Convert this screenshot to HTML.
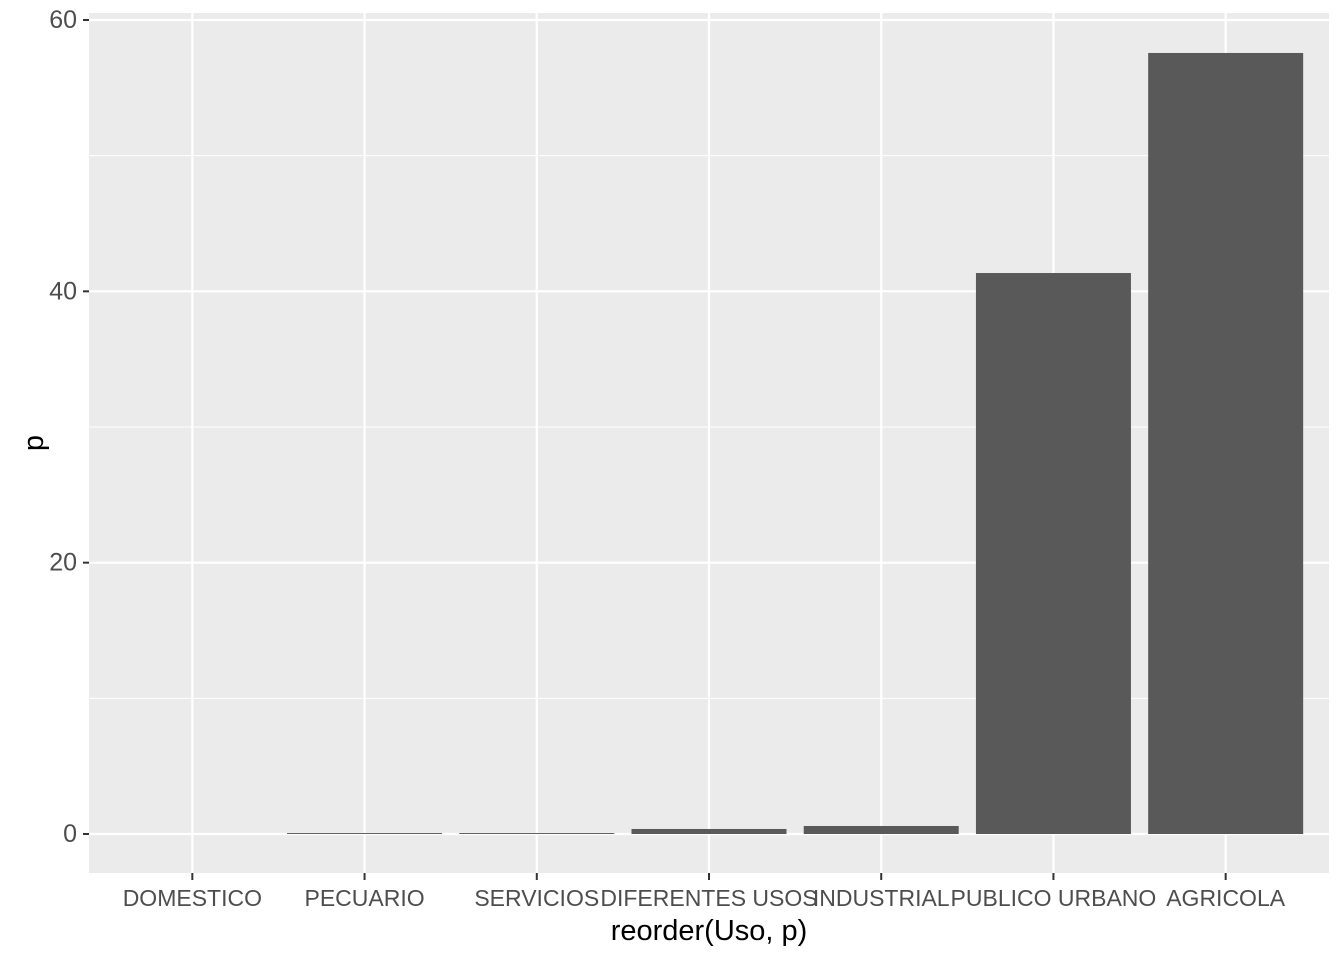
<!DOCTYPE html>
<html><head><meta charset="utf-8"><style>
body{margin:0;background:#fff;}
svg text{font-family:"Liberation Sans",Arial,sans-serif;}
</style></head><body>
<svg id="chart" width="1344" height="960">
<rect x="89" y="13" width="1240" height="860" fill="#EBEBEB"/>
<g id="grid"></g><g id="bars"></g><g id="axes"></g>
<text x="709" y="940" font-size="29" text-anchor="middle" fill="#000">reorder(Uso, p)</text>
<text transform="translate(43,443) rotate(-90)" font-size="29" text-anchor="middle" fill="#000">p</text>
</svg>
<script>
const categories=["DOMESTICO","PECUARIO","SERVICIOS","DIFERENTES USOS","INDUSTRIAL","PUBLICO URBANO","AGRICOLA"];
const values=[0,0.07,0.07,0.37,0.59,41.35,57.57];
const yTicks=[0,20,40,60];
const NS="http://www.w3.org/2000/svg";
const px0=89,px1=1329,py0=13,py1=873;
const y=v=>834-v*(814/60);
const step=(px1-px0)/(categories.length+0.2);
const x=i=>px0+step*(0.6+i);
const grid=document.getElementById('grid'),bars=document.getElementById('bars'),axes=document.getElementById('axes');
function mk(tag,attrs,parent){const e=document.createElementNS(NS,tag);for(const k in attrs)e.setAttribute(k,attrs[k]);parent.appendChild(e);return e;}
for(let i=0;i<yTicks.length-1;i++){const m=(yTicks[i]+yTicks[i+1])/2;
const l=mk('line',{x1:px0,x2:px1,y1:y(m),y2:y(m),stroke:'#fff','stroke-width':1},grid);

}
yTicks.forEach(t=>{const l=mk('line',{x1:px0,x2:px1,y1:y(t),y2:y(t),stroke:'#fff','stroke-width':2.2},grid);


const tk=mk('line',{x1:px0-6,x2:px0,y1:y(t),y2:y(t),stroke:'#333','stroke-width':2},axes);


const tx=mk('text',{x:px0-12,y:y(t)+8,'font-size':25,'text-anchor':'end',fill:'#4D4D4D'},axes);tx.textContent=t;

});
categories.forEach((c,i)=>{const cx=x(i);
const l=mk('line',{x1:cx,x2:cx,y1:py0,y2:py1,stroke:'#fff','stroke-width':2.2},grid);


const w=step*0.9;const h=Math.max(0,y(0)-y(values[i]));
if(h>0){const b=mk('rect',{x:cx-w/2,y:y(values[i]),width:w,height:h,fill:'#595959'},bars);

}
const tk=mk('line',{x1:cx,x2:cx,y1:py1,y2:py1+7,stroke:'#333','stroke-width':2},axes);


const tx=mk('text',{x:cx,y:906,'font-size':23,'text-anchor':'middle',fill:'#4D4D4D'},axes);tx.textContent=c;

});
</script>
</body></html>
